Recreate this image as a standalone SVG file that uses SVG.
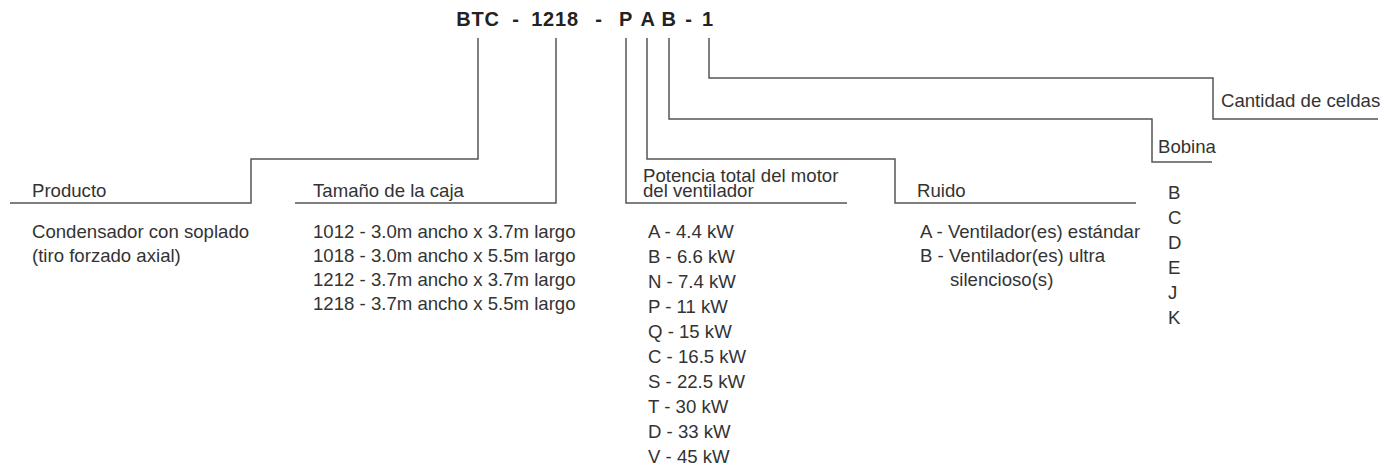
<svg xmlns="http://www.w3.org/2000/svg" width="1392" height="468" viewBox="0 0 1392 468">
<style>
.t{font-family:"Liberation Sans",Arial,sans-serif;font-size:18.6px;fill:#333}
.h{font-family:"Liberation Sans",Arial,sans-serif;font-size:20px;font-weight:bold;fill:#222;text-anchor:middle;letter-spacing:0.8px}
.c{fill:none;stroke:#555;stroke-width:1.5}
</style>
<rect width="1392" height="468" fill="#fff"/>
<g id="title">
<text class="h" x="478" y="26">BTC</text>
<text class="h" x="516" y="26">-</text>
<text class="h" x="555" y="26">1218</text>
<text class="h" x="599" y="26">-</text>
<text class="h" x="626" y="26">P</text>
<text class="h" x="648" y="26">A</text>
<text class="h" x="669" y="26">B</text>
<text class="h" x="689" y="26">-</text>
<text class="h" x="708" y="26">1</text>
</g>
<g id="connectors">
<path class="c" d="M478,38 V159 H251 V203 H10"/>
<path class="c" d="M556,38 V203 H295"/>
<path class="c" d="M626,38 V203 H847"/>
<path class="c" d="M647,38 V159 H895 V203 H1136"/>
<path class="c" d="M669,38 V119 H1152 V162 H1212"/>
<path class="c" d="M709,38 V78 H1213 V119 H1378"/>
</g>
<g id="producto">
<text class="t" x="32" y="197">Producto</text>
<text class="t" x="32" y="238">Condensador con soplado</text>
<text class="t" x="32" y="262">(tiro forzado axial)</text>
</g>
<g id="tamano">
<text class="t" x="313" y="197">Tamaño de la caja</text>
<text class="t" x="313" y="238">1012 - 3.0m ancho x 3.7m largo</text>
<text class="t" x="313" y="262">1018 - 3.0m ancho x 5.5m largo</text>
<text class="t" x="313" y="286">1212 - 3.7m ancho x 3.7m largo</text>
<text class="t" x="313" y="310">1218 - 3.7m ancho x 5.5m largo</text>
</g>
<g id="potencia">
<text class="t" x="643" y="182">Potencia total del motor</text>
<text class="t" x="643" y="197">del ventilador</text>
<text class="t" x="648" y="238">A - 4.4 kW</text>
<text class="t" x="648" y="263">B - 6.6 kW</text>
<text class="t" x="648" y="288">N - 7.4 kW</text>
<text class="t" x="648" y="313">P - 11 kW</text>
<text class="t" x="648" y="338">Q - 15 kW</text>
<text class="t" x="648" y="363">C - 16.5 kW</text>
<text class="t" x="648" y="388">S - 22.5 kW</text>
<text class="t" x="648" y="413">T - 30 kW</text>
<text class="t" x="648" y="438">D - 33 kW</text>
<text class="t" x="648" y="463">V - 45 kW</text>
</g>
<g id="ruido">
<text class="t" x="917" y="197">Ruido</text>
<text class="t" x="920" y="238">A - Ventilador(es) estándar</text>
<text class="t" x="920" y="262">B - Ventilador(es) ultra</text>
<text class="t" x="950" y="286">silencioso(s)</text>
</g>
<g id="bobina">
<text class="t" x="1158" y="153">Bobina</text>
<text class="t" x="1168" y="199">B</text>
<text class="t" x="1168" y="224">C</text>
<text class="t" x="1168" y="249">D</text>
<text class="t" x="1168" y="274">E</text>
<text class="t" x="1168" y="299">J</text>
<text class="t" x="1168" y="324">K</text>
</g>
<g id="celdas">
<text class="t" x="1221" y="107">Cantidad de celdas</text>
</g>
</svg>
